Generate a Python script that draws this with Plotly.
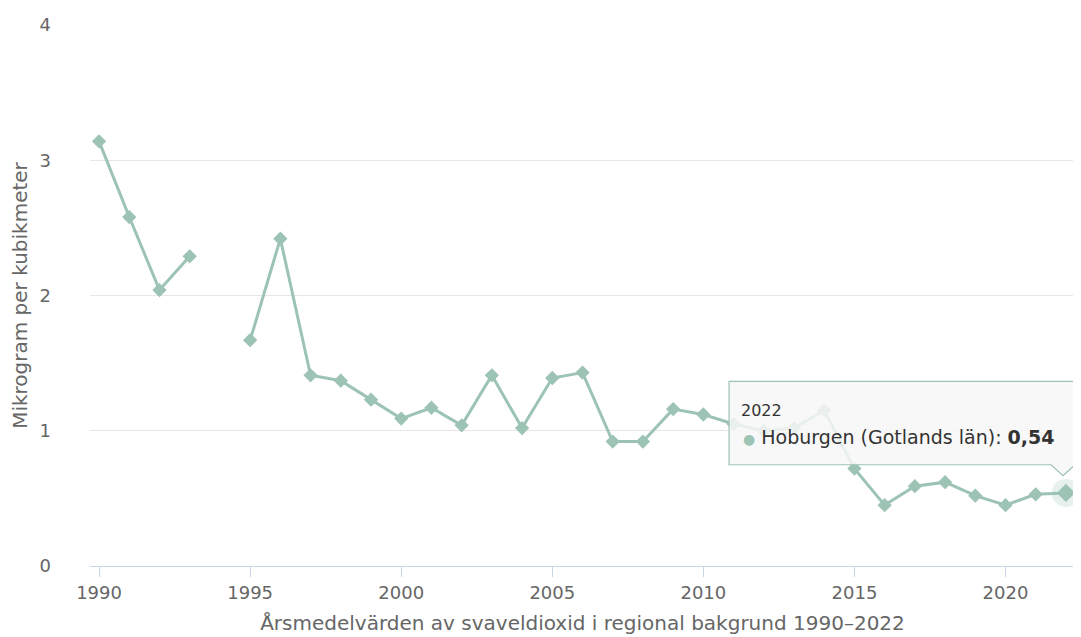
import plotly.graph_objects as go

years = list(range(1990, 2023))
values = [3.14, 2.58, 2.04, 2.29, None, 1.67, 2.42, 1.41, 1.37, 1.23,
          1.09, 1.17, 1.04, 1.41, 1.02, 1.39, 1.43, 0.92, 0.92, 1.16,
          1.12, 1.05, 1.00, 1.02, 1.15, 0.72, 0.45, 0.59, 0.62, 0.52,
          0.45, 0.53, 0.54]
series_name = "Hoburgen (Gotlands län)"
x_title = "Årsmedelvärden av svaveldioxid i regional bakgrund 1990–2022"
y_title = "Mikrogram per kubikmeter"
tick_years = [1990, 1995, 2000, 2005, 2010, 2015, 2020]
y_ticks = [0, 1, 2, 3, 4]

color = "#9cc3b4"
font_family = "DejaVu Sans"
OFF = 8  # default body margin of the html page
W, H = 1081 - OFF, 637 - OFF
# plot area in page pixels: left 87, right 1075, top 22, bottom 567
ml, mt = 87 - OFF, 22 - OFF
mr = W - (1075 - OFF)
mb = H - (567 - OFF)
pw, ph = W - ml - mr, H - mt - mb

def px(xp):  # page pixel -> paper x
    return (xp - OFF - ml) / pw

def py(yp):  # page pixel -> paper y
    return (H - mb - (yp - OFF)) / ph

fig = go.Figure()
fig.add_trace(go.Scatter(
    x=years, y=values, mode="lines+markers", name=series_name,
    line=dict(color=color, width=3),
    marker=dict(symbol="diamond", size=11, color=color),
    connectgaps=False, hoverinfo="skip",
))

# hovered point halo and enlarged marker
fig.add_shape(type="circle", xref="x", yref="y", xsizemode="pixel", ysizemode="pixel",
              xanchor=years[-1], yanchor=values[-1], x0=-14, x1=14, y0=-14, y1=14,
              fillcolor="rgba(156,195,180,0.25)", line=dict(width=0), layer="below")
fig.add_trace(go.Scatter(x=[years[-1]], y=[values[-1]], mode="markers",
                         marker=dict(symbol="diamond", size=14, color=color),
                         hoverinfo="skip", showlegend=False))

# tooltip box
bx0, bx1, by0, by1 = 728, 1100, 381, 465
fig.add_shape(type="path", xref="paper", yref="paper",
              path=(f"M {px(bx0)} {py(by0)} L {px(bx1)} {py(by0)} L {px(bx1)} {py(by1)} "
                    f"L {px(1075)} {py(by1)} L {px(1063)} {py(476)} L {px(1051)} {py(by1)} "
                    f"L {px(bx0)} {py(by1)} Z"),
              fillcolor="rgba(247,247,247,0.85)", line=dict(color=color, width=1.2),
              layer="above")
fig.add_annotation(xref="paper", yref="paper", x=px(738), y=py(410), xanchor="left", yanchor="middle",
                   text=str(years[-1]), showarrow=False,
                   font=dict(family=font_family, size=16, color="#333333"))
fig.add_annotation(xref="paper", yref="paper", x=px(740), y=py(437), xanchor="left", yanchor="middle",
                   text=(f"<span style='color:{color};font-size:14px'>●</span> {series_name}: "
                         f"<b>{values[-1]:.2f}</b>".replace(".", ",")),
                   showarrow=False,
                   font=dict(family=font_family, size=19, color="#333333"))

fig.update_layout(
    width=W, height=H, margin=dict(l=ml, r=mr, t=mt, b=mb),
    paper_bgcolor="white", plot_bgcolor="white", showlegend=False,
    font=dict(family=font_family, color="#666666"),
    xaxis=dict(range=[1989.7, 2022.3], tickvals=tick_years, ticktext=[str(t) for t in tick_years],
               showgrid=False, zeroline=False, showline=True, linecolor="#ccd6eb", linewidth=1,
               ticks="outside", ticklen=10, tickcolor="#ccd6eb",
               tickfont=dict(size=18, color="#666666"),
               title=dict(text=x_title, font=dict(size=20, color="#666666"), standoff=14)),
    yaxis=dict(range=[0, 4], tickvals=y_ticks, showgrid=True, gridcolor="#e6e6e6",
               zeroline=False, showline=False, ticks="", ticklabelstandoff=38,
               tickfont=dict(size=18, color="#666666"),
               title=dict(text=y_title, font=dict(size=20, color="#666666"), standoff=12)),
)
fig.write_html("out.html")
